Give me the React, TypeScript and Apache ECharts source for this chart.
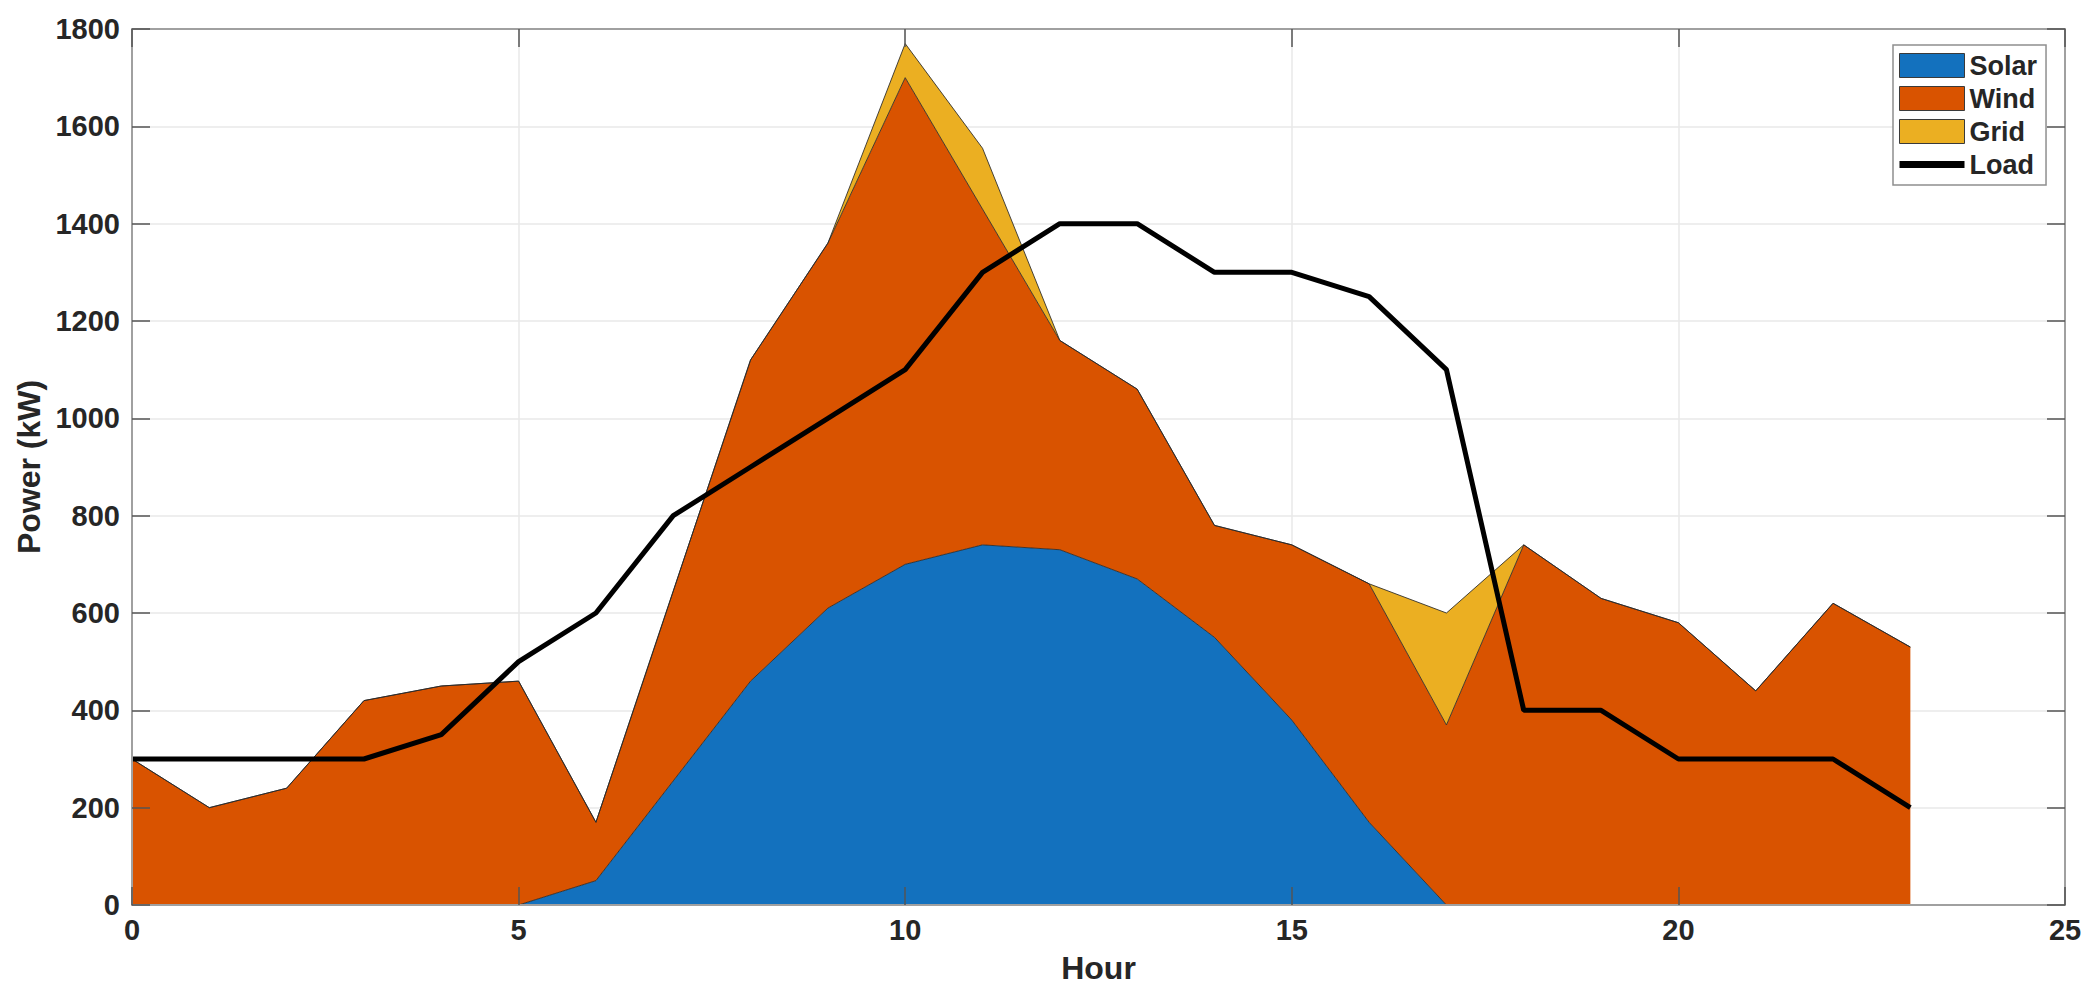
import React, { useEffect, useRef } from "react";
import * as echarts from "echarts";

const hourAxis = ["0", "1", "2", "3", "4", "5", "6", "7", "8", "9", "10", "11", "12", "13", "14", "15", "16", "17", "18", "19", "20", "21", "22", "23", "24", "25"];
const solar = [0, 0, 0, 0, 0, 0, 50, 255, 460, 610, 700, 740, 730, 670, 550, 380, 170, 0, 0, 0, 0, 0, 0, 0];
const wind = [300, 200, 240, 420, 450, 460, 120, 390, 660, 750, 1000, 690, 430, 390, 230, 360, 490, 370, 740, 630, 580, 440, 620, 530];
const gridPower = [0, 0, 0, 0, 0, 0, 0, 0, 0, 0, 70, 125, 0, 0, 0, 0, 0, 230, 0, 0, 0, 0, 0, 0];
const load = [300, 300, 300, 300, 350, 500, 600, 800, 900, 1000, 1100, 1300, 1400, 1400, 1300, 1300, 1250, 1100, 400, 400, 300, 300, 300, 200];

const seriesNames = ["Solar", "Wind", "Grid", "Load"];
const colors = ["#1371BE", "#D95300", "#EBAF22", "#000000"];

const FONT = "'Liberation Sans', Arial, Helvetica, sans-serif";
const TEXT = "#262626";

export default function App() {
  const ref = useRef<HTMLDivElement>(null);
  useEffect(() => {
    if (!ref.current) return;
    const chart = echarts.init(ref.current, null, { renderer: "svg" });
    const edge = { color: "rgba(40,40,40,0.85)", width: 1 };
    const areaSeries = (name: string, vals: number[], color: string) => ({
      name,
      type: "line",
      stack: "total",
      data: vals,
      symbol: "none",
      showSymbol: false,
      itemStyle: { color },
      lineStyle: edge,
      areaStyle: { color, opacity: 1 },
      emphasis: { disabled: true },
      z: 2,
    });
    const axisColor = "#a0a0a0";
    const tickStyle = { show: true, inside: true, length: 18, interval: 4, lineStyle: { color: "#555", width: 1.5 } };
    const yTickStyle = { show: true, inside: true, length: 18, lineStyle: { color: "#555", width: 1.5 } };
    const catBase = {
      type: "category",
      data: hourAxis,
      boundaryGap: false,
    };
    chart.setOption({
      animation: false,
      backgroundColor: "#ffffff",
      textStyle: { fontFamily: FONT },
      grid: { left: 132, right: 30, top: 29, bottom: 92, containLabel: false },
      legend: {
        orient: "vertical",
        left: 1893,
        top: 45,
        padding: [7, 9, 7, 6],
        itemWidth: 65,
        itemHeight: 24,
        itemGap: 6,
        backgroundColor: "#ffffff",
        borderColor: "#8f8f8f",
        borderWidth: 1.5,
        borderRadius: 0,
        selectedMode: false,
        textStyle: { fontSize: 27, fontWeight: "bold", color: TEXT, fontFamily: FONT },
        data: [
          { name: seriesNames[0], icon: "rect", itemStyle: { color: colors[0], borderColor: "#3a3a3a", borderWidth: 1 } },
          { name: seriesNames[1], icon: "rect", itemStyle: { color: colors[1], borderColor: "#3a3a3a", borderWidth: 1 } },
          { name: seriesNames[2], icon: "rect", itemStyle: { color: colors[2], borderColor: "#3a3a3a", borderWidth: 1 } },
          {
            name: seriesNames[3],
            icon: "path://M0,0L0.01,0L0,0.01Z M0,8.5L65,8.5L65,15.5L0,15.5Z M65,24L64.99,24L65,23.99Z",
            itemStyle: { color: "#000", borderWidth: 0 },
          },
        ],
      },
      xAxis: [
        {
          ...catBase,
          position: "bottom",
          z: 5,
          name: "Hour",
          nameLocation: "middle",
          nameGap: 47,
          nameTextStyle: { fontSize: 32, fontWeight: "bold", color: TEXT, fontFamily: FONT },
          axisLine: { show: true, onZero: false, lineStyle: { color: axisColor, width: 2 } },
          axisTick: tickStyle,
          axisLabel: { interval: 4, fontSize: 29, fontWeight: "bold", color: TEXT, margin: 10, fontFamily: FONT },
          splitLine: { show: false },
        },
        {
          ...catBase,
          position: "top",
          z: 5,
          axisLine: { show: true, onZero: false, lineStyle: { color: axisColor, width: 2 } },
          axisTick: tickStyle,
          axisLabel: { show: false, interval: 4 },
          splitLine: { show: false },
        },
        {
          ...catBase,
          position: "bottom",
          z: 0,
          axisLine: { show: false },
          axisTick: { show: false },
          axisLabel: { show: false, interval: 4 },
          splitLine: { show: true, interval: 4, lineStyle: { color: "#e8e8e8", width: 1.5 } },
        },
      ],
      yAxis: [
        {
          type: "value",
          position: "left",
          min: 0,
          max: 1800,
          interval: 200,
          z: 5,
          name: "Power (kW)",
          nameLocation: "middle",
          nameGap: 80,
          nameTextStyle: { fontSize: 32, fontWeight: "bold", color: TEXT, fontFamily: FONT },
          axisLine: { show: true, onZero: false, lineStyle: { color: axisColor, width: 2 } },
          axisTick: yTickStyle,
          axisLabel: {
            fontSize: 29,
            fontWeight: "bold",
            color: TEXT,
            margin: 12,
            fontFamily: FONT,
            formatter: (v: number) => String(v),
          },
          splitLine: { show: false },
        },
        {
          type: "value",
          position: "right",
          min: 0,
          max: 1800,
          interval: 200,
          z: 5,
          axisLine: { show: true, onZero: false, lineStyle: { color: axisColor, width: 2 } },
          axisTick: yTickStyle,
          axisLabel: { show: false },
          splitLine: { show: false },
        },
        {
          type: "value",
          position: "left",
          min: 0,
          max: 1800,
          interval: 200,
          z: 0,
          axisLine: { show: false },
          axisTick: { show: false },
          axisLabel: { show: false },
          splitLine: { show: true, lineStyle: { color: "#e8e8e8", width: 1.5 } },
        },
      ],
      series: [
        areaSeries(seriesNames[0], solar, colors[0]),
        areaSeries(seriesNames[1], wind, colors[1]),
        areaSeries(seriesNames[2], gridPower, colors[2]),
        {
          name: seriesNames[3],
          type: "line",
          data: load,
          symbol: "none",
          showSymbol: false,
          itemStyle: { color: colors[3] },
          lineStyle: { color: colors[3], width: 5 },
          emphasis: { disabled: true },
          z: 3,
        },
      ],
    });
    return () => chart.dispose();
  }, []);
  return (
    <div
      ref={ref}
      style={{ position: "fixed", left: 0, top: 0, width: "100vw", height: "100vh", background: "#fff" }}
    />
  );
}
